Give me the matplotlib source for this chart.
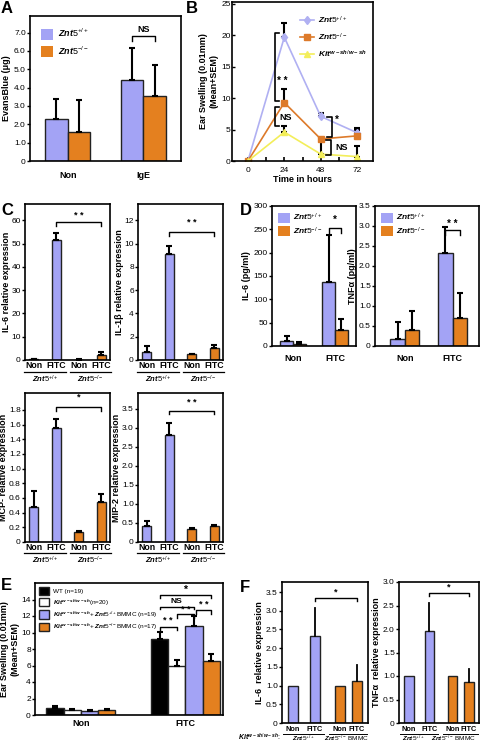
import numpy as np
import matplotlib
matplotlib.use('Agg')
import matplotlib.pyplot as plt
from matplotlib.patches import Patch

plt.rcParams['font.family'] = ['Liberation Sans', 'DejaVu Sans']
plt.rcParams['mathtext.fontset'] = 'custom'
plt.rcParams['mathtext.rm'] = 'Liberation Sans'
plt.rcParams['mathtext.it'] = 'Liberation Sans:italic:bold'
plt.rcParams['mathtext.bf'] = 'Liberation Sans:bold'
plt.rcParams['axes.linewidth'] = 1.2

BLUE = '#a3a3f5'
ORANGE = '#e4801f'
YELLOW = '#f3ee5a'
W, H = 480, 747

WT = r'$Znt5^{+/+}$'
KO = r'$Znt5^{-/-}$'
KIT = r'$Kit^{w-sh/w-sh}$'

# A: Evans blue
groups_a = ['Non', 'IgE']
evans_wt = [2.3, 4.4]
evans_wt_err = [1.1, 1.75]
evans_ko = [1.6, 3.55]
evans_ko_err = [1.7, 1.7]

# B: ear swelling time course
hours = [0, 24, 48, 72]
swell_wt = [0, 19.7, 7.1, 4.5]
swell_wt_err = [0, 2.2, 0.6, 0.8]
swell_ko = [0, 9.3, 3.5, 4.0]
swell_ko_err = [0, 2.1, 0, 1.0]
swell_kit = [0, 4.6, 1.1, 0.7]
swell_kit_err = [0, 1.0, 2.3, 1.7]

# C: relative expression
cond_c = ['Non', 'FITC', 'Non', 'FITC']
il6_c = [0.3, 51.5, 0.2, 2.2]
il6_c_err = [0.1, 3.0, 0.1, 1.1]
il1b_c = [0.7, 9.1, 0.5, 1.05]
il1b_c_err = [0.5, 0.7, 0.05, 0.25]
mcp_c = [0.48, 1.55, 0.13, 0.54]
mcp_c_err = [0.22, 0.13, 0.02, 0.11]
mip2_c = [0.43, 2.82, 0.33, 0.41]
mip2_c_err = [0.12, 0.3, 0.03, 0.03]

# D: protein
groups_d = ['Non', 'FITC']
il6_d_wt = [10, 137]
il6_d_wt_err = [12, 101]
il6_d_ko = [4, 34]
il6_d_ko_err = [4, 24]
tnf_d_wt = [0.18, 2.32]
tnf_d_wt_err = [0.42, 0.66]
tnf_d_ko = [0.4, 0.7]
tnf_d_ko_err = [0.48, 0.63]

# E: BMMC reconstitution
groups_e = ['Non', 'FITC']
ear_wt = [0.9, 9.2]
ear_wt_err = [0.2, 0.9]
ear_kit = [0.65, 5.9]
ear_kit_err = [0.05, 0.8]
ear_wtb = [0.45, 10.8]
ear_wtb_err = [0.15, 1.2]
ear_kob = [0.55, 6.6]
ear_kob_err = [0.15, 0.8]
labels_e = ['WT (n=19)', KIT + '(n=20)', KIT + '+ ' + WT + 'BMMC (n=19)',
            KIT + '+ ' + KO + 'BMMC (n=17)']

# F: relative expression in BMMC mice
cond_f = ['Non', 'FITC', 'Non', 'FITC']
il6_f = [1.0, 2.32, 1.0, 1.13]
il6_f_err = [0, 0.76, 0, 0.42]
tnf_f = [1.0, 1.95, 1.0, 0.88]
tnf_f_err = [0, 0.6, 0, 0.27]

TICK = 6
LAB = 6.5

fig = plt.figure(figsize=(4.8, 7.47), dpi=100)


def add_ax(x0, y0, x1, y1):
    return fig.add_axes([x0 / W, 1 - y1 / H, (x1 - x0) / W, (y1 - y0) / H])


def style(ax, direction='out'):
    ax.tick_params(labelsize=TICK, direction=direction, length=2, width=1, pad=1)


def bracket(ax, x1, x2, y, h, text, ty, size=7):
    ax.plot([x1, x1, x2, x2], [y - h, y, y, y - h], color='black', lw=1, clip_on=False)
    ax.text((x1 + x2) / 2, ty, text, ha='center', va='center', fontsize=size, weight='bold')


ekw = dict(ecolor='black', elinewidth=1.5, capsize=2, capthick=1.5)

# ---- A
ax = add_ax(30, 16, 181, 161)
style(ax)
x = np.arange(len(groups_a))
w = 0.3
ax.bar(x - w / 2, evans_wt, w, color=BLUE, edgecolor='#222222', lw=1,
       yerr=[np.zeros(2), evans_wt_err], error_kw=ekw)
ax.bar(x + w / 2, evans_ko, w, color=ORANGE, edgecolor='#222222', lw=1,
       yerr=[np.zeros(2), evans_ko_err], error_kw=ekw)
ax.set_xlim(-0.5, 1.5)
ax.set_ylim(0, 7.9)
ax.set_yticks(range(8))
ax.set_yticklabels(['0'] + ['%.1f' % v for v in range(1, 8)])
ax.set_xticks(x)
ax.set_xticklabels(groups_a, fontsize=LAB, weight='bold')
ax.tick_params(axis='x', length=0, pad=7)
ax.set_ylabel('EvansBlue (μg)', fontsize=LAB, weight='bold', labelpad=2)
ax.legend([Patch(facecolor=BLUE), Patch(facecolor=ORANGE)], [WT, KO], loc='upper left',
          frameon=False, fontsize=6.5, handlelength=1.4, handleheight=1.5,
          borderaxespad=0.8, labelspacing=0.5, handletextpad=0.5)
bracket(ax, 1 - w / 2, 1 + w / 2, 6.8, 0.25, 'NS', 7.15, 6.5)

# ---- B
ax = add_ax(232, 2, 373, 161)
style(ax, 'in')
ax.errorbar(hours, swell_wt, yerr=[np.zeros(4), swell_wt_err], fmt='none', **ekw)
ax.errorbar(hours, swell_ko, yerr=[np.zeros(4), swell_ko_err], fmt='none', **ekw)
ax.errorbar(hours, swell_kit, yerr=[np.zeros(4), swell_kit_err], fmt='none', **ekw)
ax.plot(hours, swell_wt, color='#b0b0f2', marker='d', ms=4.5, lw=1.2, label=WT)
ax.plot(hours, swell_ko, color='#dd7a2a', marker='s', ms=4, lw=1.2, label=KO)
ax.plot(hours, swell_kit, color=YELLOW, marker='^', ms=4.5, lw=1.2, label=KIT)
ax.set_xlim(-10.5, 82.5)
ax.set_ylim(0, 25.3)
ax.set_xticks(hours)
ax.set_xticks([12, 36, 60], minor=True)
ax.tick_params(axis='x', which='both', direction='in', length=3, width=1.2, pad=4)
ax.set_yticks(range(0, 26, 5))
ax.set_xlabel('Time in hours', fontsize=LAB, weight='bold', labelpad=1)
ax.set_ylabel('Ear Swelling (0.01mm)\n(Mean+SEM)', fontsize=LAB, weight='bold', labelpad=2)
ax.legend(loc='upper right', frameon=False, fontsize=6, handlelength=1.7,
          bbox_to_anchor=(1.01, 0.97), labelspacing=0.7, handletextpad=0.5)


def vbracket(ax, xv, y1, y2, dx, text, tx, ty, size=7):
    ax.plot([xv + dx, xv, xv, xv + dx], [y1, y1, y2, y2], color='black', lw=1.2)
    ax.text(tx, ty, text, ha='center', va='center', fontsize=size, weight='bold')


vbracket(ax, 17.8, 9.6, 20.4, 3, '* *', 22.5, 12.8)
vbracket(ax, 17.8, 5.5, 8.6, 3, 'NS', 25.0, 6.9, 6.5)
vbracket(ax, 55.5, 3.8, 7.0, -3.5, '*', 58.5, 6.6)
vbracket(ax, 55.0, 1.0, 3.4, -3.5, 'NS', 61.5, 2.2, 6.5)


# ---- C
def c_panel(box, vals, errs, ylim, yticks, yticklabels, ylabel, sig):
    ax = add_ax(*box)
    style(ax)
    xc = np.arange(4)
    ax.bar(xc, vals, 0.4, color=[BLUE, BLUE, ORANGE, ORANGE], edgecolor='#222222', lw=1,
           yerr=[np.zeros(4), errs], error_kw=ekw)
    ax.set_xlim(-0.4, 3.4)
    ax.set_ylim(*ylim)
    ax.set_yticks(yticks)
    ax.set_yticklabels(yticklabels)
    ax.set_xticks(xc)
    ax.set_xticklabels(cond_c, fontsize=6.3, weight='bold')
    ax.tick_params(axis='x', length=0, pad=0.5)
    ax.set_ylabel(ylabel, fontsize=LAB, weight='bold', labelpad=0.5)
    tr = ax.get_xaxis_transform()
    for a, b, lab in [(-0.45, 1.45, WT), (1.6, 3.45, KO)]:
        ax.plot([a, b], [-0.075, -0.075], color='black', lw=0.9, transform=tr, clip_on=False)
        ax.text((a + b) / 2, -0.125, lab, transform=tr, ha='center', va='center', fontsize=5.5)
    y, h, ty, txt = sig
    bracket(ax, 1, 3, y, h, txt, ty, 6.5)
    return ax


c_panel((25, 204, 110, 360), il6_c, il6_c_err, (0, 67), range(0, 61, 10),
        [str(v) for v in range(0, 61, 10)], 'IL-6 relative expression',
        (59.2, 1.7, 62.0, '* *'))
c_panel((138, 204, 223, 360), il1b_c, il1b_c_err, (0, 13.4), range(0, 13, 2),
        [str(v) for v in range(0, 13, 2)], 'IL-1β relative expression',
        (11.0, 0.35, 11.8, '* *'))
mcp_ticks = np.arange(0, 1.81, 0.2)
c_panel((25, 393, 110, 542), mcp_c, mcp_c_err, (0, 2.03), mcp_ticks,
        ['0'] + ['%.1f' % v for v in mcp_ticks[1:]], 'MCP- relative expression',
        (1.84, 0.05, 1.97, '*'))
mip_ticks = np.arange(0, 3.51, 0.5)
c_panel((138, 393, 223, 542), mip2_c, mip2_c_err, (0, 3.92), mip_ticks,
        ['0'] + ['%.1f' % v for v in mip_ticks[1:]], 'MIP-2 relative expression',
        (3.45, 0.08, 3.68, '* *'))


# ---- D
def d_panel(box, wt, wt_err, ko, ko_err, xlim, ylim, yticks, yticklabels, ylabel, sig):
    ax = add_ax(*box)
    style(ax)
    xd = np.arange(2)
    ax.bar(xd - 0.15, wt, 0.3, color=BLUE, edgecolor='#222222', lw=1,
           yerr=[np.zeros(2), wt_err], error_kw=ekw)
    ax.bar(xd + 0.15, ko, 0.3, color=ORANGE, edgecolor='#222222', lw=1,
           yerr=[np.zeros(2), ko_err], error_kw=ekw)
    ax.set_xlim(*xlim)
    ax.set_ylim(*ylim)
    ax.set_yticks(yticks)
    ax.set_yticklabels(yticklabels)
    ax.set_xticks(xd)
    ax.set_xticklabels(groups_d, fontsize=LAB, weight='bold')
    ax.tick_params(axis='x', length=0, pad=6)
    ax.set_ylabel(ylabel, fontsize=LAB, weight='bold', labelpad=1.5)
    ax.legend([Patch(facecolor=BLUE), Patch(facecolor=ORANGE)], [WT, KO], loc='upper left',
              frameon=False, fontsize=6, handlelength=1.5, handleheight=1.4,
              borderaxespad=0.3, labelspacing=0.25, handletextpad=0.3)
    y, h, ty, txt = sig
    bracket(ax, 0.85, 1.15, y, h, txt, ty, 7)


d_panel((272, 206, 356, 346), il6_d_wt, il6_d_wt_err, il6_d_ko, il6_d_ko_err,
        (-0.5, 1.5), (0, 300), range(0, 301, 50), [str(v) for v in range(0, 301, 50)],
        'IL-6 (pg/ml)', (253, 11, 270, '*'))
tnf_ticks = np.arange(0, 3.51, 0.5)
d_panel((375, 206, 479, 346), tnf_d_wt, tnf_d_wt_err, tnf_d_ko, tnf_d_ko_err,
        (-0.62, 1.55), (0, 3.5), tnf_ticks, ['0'] + ['%.1f' % v for v in tnf_ticks[1:]],
        'TNFα (pg/ml)', (2.9, 0.12, 3.05, '* *'))

# ---- E
ax = add_ax(35, 583, 223, 715)
style(ax)
xe = np.arange(2)
we = 0.165
series_e = [(ear_wt, ear_wt_err, 'black'), (ear_kit, ear_kit_err, 'white'),
            (ear_wtb, ear_wtb_err, BLUE), (ear_kob, ear_kob_err, ORANGE)]
handles = []
for i, (vals, errs, col) in enumerate(series_e):
    ax.bar(xe + (i - 1.5) * we, vals, we, color=col, edgecolor='#222222', lw=1,
           yerr=[np.zeros(2), errs], error_kw=ekw)
    handles.append(Patch(facecolor=col, edgecolor='#222222'))
ax.set_xlim(-0.44, 1.36)
ax.set_ylim(0, 16)
ax.set_yticks(range(0, 15, 2))
ax.set_xticks(xe)
ax.set_xticklabels(groups_e, fontsize=LAB, weight='bold')
ax.tick_params(axis='x', length=0, pad=3)
ax.set_ylabel('Ear Swelling (0.01mm)\n(Mean+SEM)', fontsize=LAB, weight='bold', labelpad=1.5)
ax.legend(handles, labels_e, loc='upper left', frameon=False,
          prop={'size': 4.6}, handlelength=1.6, handleheight=1.6,
          borderaxespad=0.25, labelspacing=0.3, handletextpad=0.5)
cx = [1 + (i - 1.5) * we for i in range(4)]
bracket(ax, cx[0], cx[1], 10.7, 0.4, '* *', 11.4, 6.5)
bracket(ax, cx[1], cx[2], 12.2, 0.4, '* *', 12.75, 6.5)
bracket(ax, cx[0], cx[2], 13.1, 0.3, 'NS', 13.7, 6)
bracket(ax, cx[2] + 0.02, cx[3], 12.7, 0.4, '* *', 13.4, 6.5)
bracket(ax, cx[0], cx[3], 14.5, 0.3, '*', 15.2, 7.5)


# ---- F
def f_panel(box, vals, errs, ylim, yticks, ylabel, sig, groups, gx):
    ax = add_ax(*box)
    style(ax)
    xf = np.array([0, 1.0, 2.15, 2.95])
    ax.bar(xf, vals, 0.46, color=[BLUE, BLUE, ORANGE, ORANGE], edgecolor='#222222', lw=1)
    for xi, v, e in zip(xf, vals, errs):
        if e > 0:
            ax.plot([xi, xi], [v, v + e], color='black', lw=1.3)
    ax.set_xlim(-0.5, 3.45)
    ax.set_ylim(*ylim)
    ax.set_yticks(yticks)
    ax.set_yticklabels(['0'] + ['%.1f' % v for v in yticks[1:]])
    ax.set_xticks(xf)
    ax.set_xticklabels(cond_f, fontsize=5.3, weight='bold')
    ax.tick_params(axis='x', length=0, pad=2)
    ax.set_ylabel(ylabel, fontsize=LAB, weight='bold', labelpad=1.5)
    tr = ax.get_xaxis_transform()
    for (a, b), lab, c in zip([(-0.45, 1.45), (1.65, 3.4)], groups, gx):
        ax.plot([a, b], [-0.075, -0.075], color='black', lw=0.7, transform=tr, clip_on=False)
        ax.text(c, -0.11, lab, transform=tr, ha='center', va='center', fontsize=4.6)
    y, h, ty = sig
    bracket(ax, 1, 2.95, y, h, '*', ty, 6.5)
    return ax


f_groups = [r'$\mathit{Znt5}^{+/+}$', r'$\mathit{Znt5}^{-/-}$ BMMC']
f_panel((282, 582, 368, 723), il6_f, il6_f_err, (0, 3.77), np.arange(0, 3.51, 0.5),
        'IL-6  relative expression', (3.34, 0.08, 3.5), f_groups, (0.5, 2.45))
f_panel((399, 582, 479, 723), tnf_f, tnf_f_err, (0, 3.0), np.arange(0, 3.01, 0.5),
        'TNFα  relative expression', (2.77, 0.07, 2.9), f_groups, (0.2, 2.2))
fig.text(238 / W, 1 - 737 / H, KIT + ':', fontsize=5, va='center')

# panel letters
for lab, px, py in [('A', 1, 1), ('B', 186, 1), ('C', 1, 203), ('D', 240, 203),
                    ('E', 1, 578), ('F', 240, 580)]:
    fig.text(px / W, 1 - py / H, lab, fontsize=12, weight='bold', va='top')

fig.savefig('out.png', dpi=100)
